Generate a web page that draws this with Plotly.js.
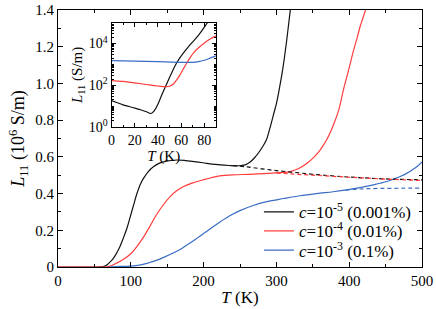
<!DOCTYPE html>
<html>
<head>
<meta charset="utf-8">
<script src="https://cdn.plot.ly/plotly-3.0.1.min.js"></script>
<style>
html,body{margin:0;padding:0;background:#fff;}
#chart{width:436px;height:309px;}
</style>
</head>
<body>
<div id="chart"></div>
<script>
// ---- Main panel data: T (K) and L11 (10^6 S/m) ----
const blackT = [0, 40, 55, 62, 66, 71, 76, 80, 85, 90, 95, 99, 104, 108, 113, 117, 124, 131, 138, 145, 155, 163, 175, 190, 204, 220, 235, 245, 252, 258, 264, 270, 276, 281, 286, 291, 296, 300, 304, 308, 311, 314, 317, 320];
const blackL = [0, 0, 0, 0.002, 0.008, 0.025, 0.047, 0.072, 0.11, 0.16, 0.215, 0.27, 0.34, 0.395, 0.45, 0.48, 0.52, 0.546, 0.563, 0.573, 0.58, 0.583, 0.58, 0.573, 0.565, 0.558, 0.553, 0.551, 0.553, 0.558, 0.572, 0.595, 0.625, 0.655, 0.69, 0.755, 0.83, 0.89, 0.97, 1.06, 1.14, 1.23, 1.33, 1.43];
const blackDashT = [240, 260, 280, 300, 320, 350, 400, 450, 500];
const blackDashL = [0.553, 0.545, 0.535, 0.525, 0.517, 0.505, 0.49, 0.48, 0.475];

const redT = [0, 50, 65, 72, 80, 90, 100, 108, 117, 126, 135, 144, 154, 163, 172, 185, 199, 210, 222, 240, 263, 290, 305, 319, 330, 342, 352, 360, 370, 379, 386, 392, 399, 406, 411, 415, 420, 424];
const redL = [0, 0, 0, 0.005, 0.02, 0.042, 0.072, 0.11, 0.16, 0.22, 0.283, 0.335, 0.383, 0.415, 0.437, 0.458, 0.474, 0.486, 0.496, 0.502, 0.505, 0.51, 0.514, 0.52, 0.535, 0.565, 0.6, 0.637, 0.7, 0.78, 0.86, 0.964, 1.07, 1.18, 1.25, 1.31, 1.37, 1.42];
const redDashT = [300, 320, 350, 400, 450, 500];
const redDashL = [0.512, 0.507, 0.50, 0.489, 0.479, 0.471];

const blueT = [70, 80, 100, 112, 124, 135, 146, 158, 170, 181, 192, 204, 213, 222, 236, 250, 268, 287, 310, 332, 355, 378, 397, 415, 430, 442, 452, 461, 470, 479, 487, 494, 500];
const blueL = [0, 0.002, 0.005, 0.01, 0.022, 0.036, 0.054, 0.076, 0.101, 0.13, 0.16, 0.193, 0.219, 0.244, 0.279, 0.307, 0.335, 0.356, 0.373, 0.388, 0.4, 0.41, 0.42, 0.432, 0.445, 0.456, 0.466, 0.479, 0.493, 0.51, 0.53, 0.55, 0.573];
const blueDashT = [395, 415, 440, 470, 500];
const blueDashL = [0.419, 0.425, 0.428, 0.429, 0.43];

// ---- Inset data: T (K) and L11 (S/m), log scale ----
const insBlackT = [0, 5, 10, 15, 20, 25, 30, 34, 37, 40, 43, 46, 49, 52, 55, 58, 62, 66, 70, 75, 80, 84];
const insBlackL = [18.6, 14.8, 11.7, 9.8, 8.1, 6.8, 5.5, 4.5, 6.3, 12.6, 31.6, 76, 178, 417, 912, 1740, 3550, 6760, 12000, 25100, 60300, 132000];
const insRedT = [0, 10, 20, 30, 40, 47, 50, 53, 56, 59, 62, 65, 68, 71, 75, 80, 85, 90];
const insRedL = [170, 155, 132, 110, 93, 87, 91, 112, 178, 316, 631, 1200, 2240, 3800, 6310, 10700, 16600, 23400];
const insBlueT = [0, 20, 40, 60, 70, 75, 80, 85, 90];
const insBlueL = [1510, 1450, 1350, 1260, 1260, 1350, 1580, 2000, 2570];

// ---- Labels ----
const legendNames = ['<i>c</i>=10<sup>-5</sup> (0.001%)', '<i>c</i>=10<sup>-4</sup> (0.01%)', '<i>c</i>=10<sup>-3</sup> (0.1%)'];
const yTickVals = [0, 0.2, 0.4, 0.6, 0.8, 1.0, 1.2, 1.4];
const yTickText = ['0', '0.2', '0.4', '0.6', '0.8', '1.0', '1.2', '1.4'];
const insYTickVals = [1, 100, 10000];
const insYTickText = ['10<sup>0</sup>', '10<sup>2</sup>', '10<sup>4</sup>'];

const BLACK = '#111111', RED = '#ff3c3c', BLUE = '#3a6cc4';
const FONT = 'Liberation Serif';
const lw = 1.2;
const dashStyle = '4px,3px';

function ln(color, dash) {
  const o = {color: color, width: lw, shape: 'spline', smoothing: 1};
  if (dash) o.dash = dash;
  return o;
}

const traces = [
  {type: 'scatter', x: blackT, y: blackL, mode: 'lines', name: legendNames[0], legend: 'legend', line: ln(BLACK), xaxis: 'x', yaxis: 'y'},
  {type: 'scatter', x: redT, y: redL, mode: 'lines', name: legendNames[1], legend: 'legend2', line: ln(RED), xaxis: 'x', yaxis: 'y'},
  {type: 'scatter', x: blueT, y: blueL, mode: 'lines', name: legendNames[2], legend: 'legend3', line: ln(BLUE), xaxis: 'x', yaxis: 'y'},
  {type: 'scatter', x: blackDashT, y: blackDashL, mode: 'lines', showlegend: false, line: ln(BLACK, dashStyle), xaxis: 'x', yaxis: 'y'},
  {type: 'scatter', x: redDashT, y: redDashL, mode: 'lines', showlegend: false, line: ln(RED, dashStyle), xaxis: 'x', yaxis: 'y'},
  {type: 'scatter', x: blueDashT, y: blueDashL, mode: 'lines', showlegend: false, line: ln(BLUE, dashStyle), xaxis: 'x', yaxis: 'y'},
  {type: 'scatter', x: insBlackT, y: insBlackL, mode: 'lines', showlegend: false, line: ln(BLACK), xaxis: 'x2', yaxis: 'y2'},
  {type: 'scatter', x: insRedT, y: insRedL, mode: 'lines', showlegend: false, line: ln(RED), xaxis: 'x2', yaxis: 'y2'},
  {type: 'scatter', x: insBlueT, y: insBlueL, mode: 'lines', showlegend: false, line: ln(BLUE), xaxis: 'x2', yaxis: 'y2'}
];

const axisCommon = {
  showline: true, linecolor: '#000', linewidth: 1, mirror: 'allticks',
  ticks: 'inside', ticklen: 5, tickwidth: 1, tickcolor: '#000',
  showgrid: false, zeroline: false
};

function legendAt(y) {
  return {x: 0.552, y: y, xanchor: 'left', yanchor: 'middle', bgcolor: 'rgba(0,0,0,0)',
          font: {family: FONT, size: 17, color: '#000'}, itemwidth: 30};
}

const layout = {
  width: 436, height: 309,
  margin: {l: 58, r: 14, t: 10, b: 42},
  paper_bgcolor: '#fff', plot_bgcolor: 'rgba(0,0,0,0)',
  font: {family: FONT, size: 15, color: '#000'},
  showlegend: true,
  legend: legendAt(0.213),
  legend2: legendAt(0.139),
  legend3: legendAt(0.064),
  xaxis: Object.assign({}, axisCommon, {
    range: [0, 500], dtick: 100, tick0: 0, domain: [0, 1],
    minor: {ticks: 'inside', dtick: 50, ticklen: 3, tickcolor: '#000'},
    tickfont: {family: FONT, size: 15},
    title: {text: '<i>T</i> (K)', font: {family: FONT, size: 17}, standoff: 3}
  }),
  yaxis: Object.assign({}, axisCommon, {
    range: [0, 1.4], tickvals: yTickVals, ticktext: yTickText, domain: [0, 1],
    minor: {ticks: 'inside', dtick: 0.1, ticklen: 3, tickcolor: '#000'},
    tickfont: {family: FONT, size: 15},
    title: {text: '<i>L</i><sub>11</sub> (10<sup>6</sup> S/m)', font: {family: FONT, size: 18}, standoff: 5}
  }),
  xaxis2: Object.assign({}, axisCommon, {
    anchor: 'y2', domain: [0.147, 0.434], range: [0, 90], dtick: 20, tick0: 0, ticklen: 4,
    minor: {ticks: 'inside', dtick: 10, ticklen: 2, tickcolor: '#000'},
    tickfont: {family: FONT, size: 14},
    title: {text: '<i>T</i> (K)', font: {family: FONT, size: 15}, standoff: 2}
  }),
  yaxis2: Object.assign({}, axisCommon, {
    anchor: 'x2', domain: [0.544, 0.951], type: 'log', range: [0, 5], ticklen: 4,
    tickvals: insYTickVals, ticktext: insYTickText,
    minor: {ticks: 'inside', ticklen: 2, tickcolor: '#000', dtick: 'D1'},
    tickfont: {family: FONT, size: 14},
    title: {text: '<i>L</i><sub>11</sub> (S/m)', font: {family: FONT, size: 15}, standoff: 2}
  })
};

Plotly.newPlot('chart', traces, layout, {displayModeBar: false});
</script>
</body>
</html>
